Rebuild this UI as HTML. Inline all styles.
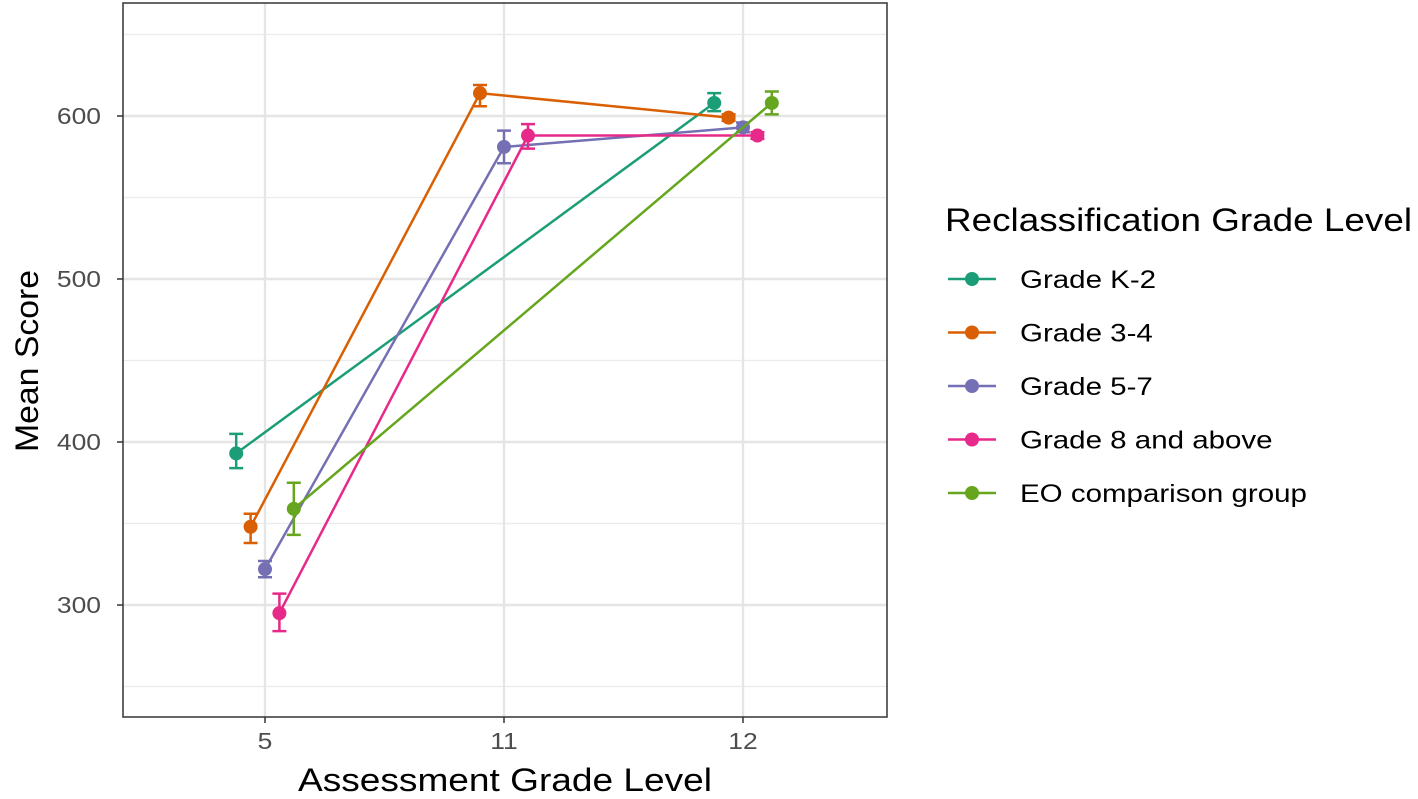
<!DOCTYPE html>
<html><head><meta charset="utf-8"><style>
body{margin:0;background:#fff;font-family:"Liberation Sans",sans-serif}
</style></head><body>
<svg id="chart" width="1418" height="794" xmlns="http://www.w3.org/2000/svg"></svg>
<script>
const categories=["5","11","12"];
const groups=["Grade K-2","Grade 3-4","Grade 5-7","Grade 8 and above","EO comparison group"];
const colors=["#1B9E77","#D95F02","#7570B3","#E7298A","#66A61E"];
// mean, low, high per category (null = missing)
const meanK2=[393,null,608], lowK2=[384,null,603], highK2=[405,null,614];
const mean34=[348,614,599], low34=[338,606,597], high34=[356,619,601];
const mean57=[322,581,593], low57=[317,571,590], high57=[327,591,596];
const mean8=[295,588,588], low8=[284,580,586], high8=[307,595,590];
const meanEO=[359,null,608], lowEO=[343,null,601], highEO=[375,null,615];
const yTicks=[300,400,500,600];
const yMinor=[250,350,450,550,650];

const means=[meanK2,mean34,mean57,mean8,meanEO];
const lows=[lowK2,low34,low57,low8,lowEO];
const highs=[highK2,high34,high57,high8,highEO];

const NS="http://www.w3.org/2000/svg";
const svg=document.getElementById('chart');
const L=123,R=887,T=3,B=717;
const y=v=>605-(v-300)*1.63;
const x=i=>265+i*239;
function mk(tag,attrs,parent){const e=document.createElementNS(NS,tag);for(const k in attrs)e.setAttribute(k,attrs[k]);(parent||svg).appendChild(e);return e;}
function stretch(t,f){const w=t.getComputedTextLength();t.setAttribute('textLength',w*f);t.setAttribute('lengthAdjust','spacingAndGlyphs');}

// grid
yMinor.forEach(v=>{const l=mk('line',{x1:L,x2:R,y1:y(v),y2:y(v),stroke:'#ebebeb','stroke-width':1.2});

});
yTicks.forEach(v=>{const l=mk('line',{x1:L,x2:R,y1:y(v),y2:y(v),stroke:'#e5e5e5','stroke-width':2.4});


const t=mk('text',{x:L-22,y:y(v)+8,'text-anchor':'end','font-size':23,fill:'#4d4d4d'});t.textContent=v;


stretch(t,1.15);
mk('line',{x1:L-6,x2:L,y1:y(v),y2:y(v),stroke:'#333','stroke-width':1.5});});
categories.forEach((c,i)=>{const l=mk('line',{x1:x(i),x2:x(i),y1:T,y2:B,stroke:'#e5e5e5','stroke-width':2.4});


mk('line',{x1:x(i),x2:x(i),y1:B,y2:B+6,stroke:'#333','stroke-width':1.5});
const t=mk('text',{x:x(i),y:B+32,'text-anchor':'middle','font-size':23,fill:'#4d4d4d'});t.textContent=c;


stretch(t,1.15);});

// series
const W=72;
function offset(ci,gi){const present=means.map((m,k)=>m[ci]!==null?k:-1).filter(k=>k>=0);const n=present.length;const idx=present.indexOf(gi);return (idx-(n-1)/2)*W/n;}
means.forEach((m,g)=>{
  const pts=[];
  m.forEach((v,ci)=>{if(v!==null)pts.push([x(ci)+offset(ci,g),y(v),ci]);});
  const pl=mk('polyline',{points:pts.map(p=>p[0]+','+p[1]).join(' '),fill:'none',stroke:colors[g],'stroke-width':2.5});
  
  
  pts.forEach(p=>{const ci=p[2],px=p[0];
    const lo=y(lows[g][ci]),hi=y(highs[g][ci]);
    const eb=mk('path',{d:`M${px-7},${lo}H${px+7}M${px},${lo}V${hi}M${px-7},${hi}H${px+7}`,stroke:colors[g],'stroke-width':2.5,fill:'none'});
    
    
    const c=mk('circle',{cx:px,cy:p[1],r:7,fill:colors[g]});
    
    
  });
});
const fr=mk('rect',{x:L,y:T,width:R-L,height:B-T,fill:'none',stroke:'#333','stroke-width':1.5});



// axis titles
let t=mk('text',{x:505,y:791,'text-anchor':'middle','font-size':32,fill:'#000'});t.textContent='Assessment Grade Level';


t.setAttribute('textLength',414);t.setAttribute('lengthAdjust','spacingAndGlyphs');
t=mk('text',{x:38,y:361,'text-anchor':'middle','font-size':32,fill:'#000',transform:'rotate(-90 38 361)'});t.textContent='Mean Score';


t.setAttribute('textLength',182);t.setAttribute('lengthAdjust','spacingAndGlyphs');

// legend
t=mk('text',{x:945,y:231,'font-size':32,fill:'#000'});t.textContent='Reclassification Grade Level';


t.setAttribute('textLength',467);t.setAttribute('lengthAdjust','spacingAndGlyphs');
groups.forEach((gname,g)=>{const ly=279+g*53.5;
  const grp=mk('g',{});
  
  
  mk('line',{x1:948,x2:996,y1:ly,y2:ly,stroke:colors[g],'stroke-width':2.5},grp);
  mk('circle',{cx:972,cy:ly,r:7,fill:colors[g]},grp);
  const tt=mk('text',{x:1020,y:ly+9,'font-size':25,fill:'#000'},grp);tt.textContent=gname;
  stretch(tt,1.18);
});
</script>
</body></html>
